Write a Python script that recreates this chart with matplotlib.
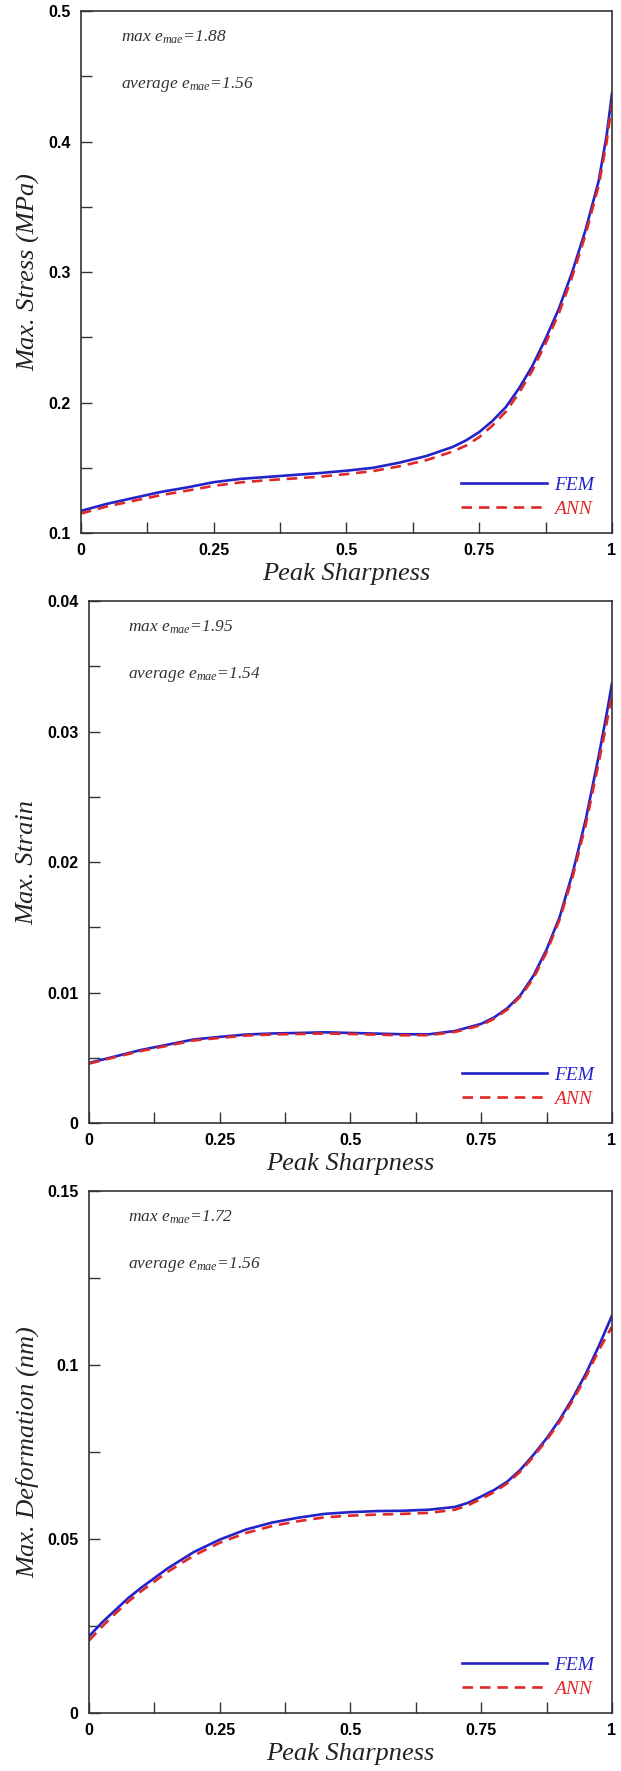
import numpy as np
import matplotlib
matplotlib.use("Agg")
import matplotlib.pyplot as plt
from matplotlib.ticker import MultipleLocator, FuncFormatter

plt.rcParams['mathtext.fontset'] = 'custom'
plt.rcParams['mathtext.it'] = 'Liberation Serif:italic'
plt.rcParams['mathtext.rm'] = 'Liberation Serif:italic'

x_stress = [0, 0.05, 0.1, 0.15, 0.2, 0.25, 0.3, 0.35, 0.4, 0.45, 0.5, 0.55, 0.6,
            0.65, 0.7, 0.725, 0.75, 0.775, 0.8, 0.825, 0.85, 0.875, 0.9, 0.925,
            0.95, 0.975, 0.99, 1.0]
stress_fem = [0.117, 0.1225, 0.127, 0.1315, 0.135, 0.139, 0.1415, 0.143, 0.1445, 0.146,
              0.1478, 0.150, 0.154, 0.159, 0.166, 0.171, 0.1774, 0.186, 0.1965, 0.211,
              0.228, 0.249, 0.272, 0.300, 0.332, 0.370, 0.405, 0.437]
stress_ann = [0.115, 0.1205, 0.1248, 0.129, 0.1325, 0.1362, 0.1388, 0.1405, 0.1418, 0.1432,
              0.1452, 0.1475, 0.1512, 0.1558, 0.1625, 0.167, 0.1735, 0.1825, 0.193, 0.2075,
              0.2245, 0.2455, 0.2685, 0.2965, 0.3285, 0.3665, 0.400, 0.430]

x_strain = [0, 0.05, 0.1, 0.15, 0.2, 0.25, 0.3, 0.35, 0.4, 0.45, 0.5, 0.55, 0.6,
            0.65, 0.7, 0.75, 0.775, 0.8, 0.825, 0.85, 0.875, 0.9, 0.925, 0.95,
            0.975, 0.99, 1.0]
strain_fem = [0.0046, 0.0051, 0.0056, 0.0060, 0.0064, 0.0066, 0.00678, 0.00686, 0.0069,
              0.00695, 0.0069, 0.00685, 0.0068, 0.0068, 0.00705, 0.0076, 0.0081, 0.0088,
              0.0098, 0.0113, 0.0133, 0.0158, 0.0192, 0.0233, 0.0282, 0.0314, 0.0337]
strain_ann = [0.00455, 0.00505, 0.00552, 0.00592, 0.00632, 0.00652, 0.0067, 0.00678, 0.00682,
              0.00686, 0.00682, 0.00677, 0.00672, 0.00673, 0.00698, 0.0075, 0.008, 0.0087,
              0.0097, 0.0111, 0.0131, 0.0156, 0.0189, 0.0229, 0.0277, 0.0307, 0.0328]

x_deform = [0, 0.025, 0.05, 0.075, 0.1, 0.15, 0.2, 0.25, 0.3, 0.35, 0.4, 0.45, 0.5,
            0.55, 0.6, 0.65, 0.7, 0.725, 0.75, 0.775, 0.8, 0.825, 0.85, 0.875, 0.9,
            0.925, 0.95, 0.975, 1.0]
deform_fem = [0.022, 0.026, 0.0295, 0.033, 0.036, 0.0415, 0.0462, 0.0498, 0.0527, 0.0547,
              0.0561, 0.0572, 0.0577, 0.058, 0.0581, 0.0584, 0.0592, 0.0604, 0.0622, 0.0641,
              0.0665, 0.0699, 0.0742, 0.0789, 0.0843, 0.0905, 0.0975, 0.1055, 0.1142]
deform_ann = [0.0208, 0.0248, 0.0285, 0.032, 0.035, 0.0405, 0.0452, 0.0489, 0.0517, 0.0537,
              0.0551, 0.0562, 0.0567, 0.057, 0.0572, 0.0575, 0.0584, 0.0597, 0.0615, 0.0635,
              0.066, 0.0694, 0.0737, 0.0784, 0.0837, 0.0898, 0.0966, 0.1043, 0.111]

x_ticks = [0, 0.25, 0.5, 0.75, 1.0]
y_labels = ["Max. Stress (MPa)", "Max. Strain", "Max. Deformation (nm)"]
y_limits = [(0.1, 0.5), (0, 0.04), (0, 0.15)]
y_major = [0.1, 0.01, 0.05]
y_minor = [0.05, 0.005, 0.025]
max_err = [1.88, 1.95, 1.72]
avg_err = [1.56, 1.54, 1.56]

fem_color = '#2323c8'
ann_color = '#e02828'
spine_color = '#333333'

fig = plt.figure(figsize=(6.21, 17.71), dpi=100)
axes = [
    fig.add_axes([0.1304, 0.6990, 0.8551, 0.2947]),
    fig.add_axes([0.1433, 0.3659, 0.8422, 0.2947]),
    fig.add_axes([0.1433, 0.0328, 0.8422, 0.2947]),
]
ylabel_x = [-0.077, -0.096, -0.095]

series = [(x_stress, stress_fem, stress_ann),
          (x_strain, strain_fem, strain_ann),
          (x_deform, deform_fem, deform_ann)]

fmt = FuncFormatter(lambda v, p: '%g' % round(v, 6))

for i, ax in enumerate(axes):
    xs, fem, ann = series[i]
    ax.plot(xs, fem, color=fem_color, lw=1.9, label='FEM')
    ax.plot(xs, ann, color=ann_color, lw=1.9, dashes=(4, 2.6), label='ANN')

    ax.set_xlim(0, 1)
    ax.set_ylim(*y_limits[i])
    ax.set_xticks(x_ticks)
    ax.xaxis.set_minor_locator(MultipleLocator(0.125))
    ax.yaxis.set_major_locator(MultipleLocator(y_major[i]))
    ax.yaxis.set_minor_locator(MultipleLocator(y_minor[i]))
    ax.xaxis.set_major_formatter(fmt)
    ax.yaxis.set_major_formatter(fmt)

    ax.tick_params(which='both', direction='in', length=8, width=1.0,
                   color=spine_color, top=False, right=False)
    ax.tick_params(which='major', pad=7.5)
    for lab in ax.get_xticklabels() + ax.get_yticklabels():
        lab.set_fontfamily('Liberation Sans')
        lab.set_fontweight('bold')
        lab.set_fontsize(11.5)

    for sp in ax.spines.values():
        sp.set_color(spine_color)
        sp.set_linewidth(1.2)

    ax.set_xlabel('Peak Sharpness', fontfamily='Liberation Serif', style='italic',
                  fontsize=19, color='#222222', labelpad=3.5)
    ax.set_ylabel(y_labels[i], fontfamily='Liberation Serif', style='italic',
                  fontsize=19, color='#222222')
    ax.yaxis.set_label_coords(ylabel_x[i], 0.5)

    ax.text(0.075, 0.949, r'max $e_{mae}$=%.2f' % max_err[i], transform=ax.transAxes,
            fontfamily='Liberation Serif', style='italic', fontsize=12.5,
            color='#333333', va='center', ha='left')
    ax.text(0.075, 0.860, r'average $e_{mae}$=%.2f' % avg_err[i], transform=ax.transAxes,
            fontfamily='Liberation Serif', style='italic', fontsize=12.5,
            color='#333333', va='center', ha='left')

    leg = ax.legend(loc='lower right', bbox_to_anchor=(0.966, 0.029), frameon=False,
                    prop={'family': 'Liberation Serif', 'style': 'italic', 'size': 14},
                    handlelength=4.4, handletextpad=0.36, labelspacing=0.34,
                    borderpad=0, borderaxespad=0)
    for txt, c in zip(leg.get_texts(), [fem_color, ann_color]):
        txt.set_color(c)

fig.savefig('out.png', dpi=100)
